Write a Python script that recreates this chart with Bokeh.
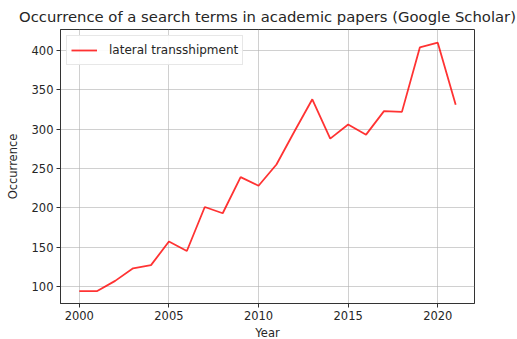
from bokeh.plotting import figure
from bokeh.models import FixedTicker, Range1d, Legend, LegendItem
from bokeh.embed import file_html
from bokeh.resources import INLINE

# Yearly counts of the search term in Google Scholar
years = list(range(2000, 2022))
occurrence = [94, 94, 107, 123, 127, 157, 145, 201, 193, 239, 228,
              255, 297, 338, 288, 306, 293, 323, 322, 404, 410, 331]
series_label = "lateral transshipment"
x_ticks = [2000, 2005, 2010, 2015, 2020]
y_ticks = [100, 150, 200, 250, 300, 350, 400]

FONT = "DejaVu Sans"
TEXT = "#262626"

p = figure(
    width=517, height=339,
    output_backend="svg", toolbar_location=None,
    title="Occurrence of a search terms in academic papers (Google Scholar)",
    x_range=Range1d(1998.95, 2022.05), y_range=Range1d(78.2, 426.8),
    min_border_left=60, min_border_right=43, min_border_top=5, min_border_bottom=5,
)
p.frame_width = 414
p.frame_height = 274

p.title.text_font = FONT
p.title.text_font_size = "14.8px"
p.title.text_font_style = "normal"
p.title.text_color = TEXT
p.title.align = "center"
p.title.offset = -12

line = p.line(years, occurrence, line_color="#ff0000", line_alpha=0.8, line_width=1.8)

for ax, ticks in ((p.xaxis, x_ticks), (p.yaxis, y_ticks)):
    ax.ticker = FixedTicker(ticks=ticks)
    ax.major_tick_out = 4
    ax.major_tick_in = 0
    ax.minor_tick_line_color = None
    ax.major_label_text_font = FONT
    ax.major_label_text_font_size = "11.5px"
    ax.major_label_text_color = TEXT
    ax.axis_label_text_font = FONT
    ax.axis_label_text_font_size = "11.5px"
    ax.axis_label_text_font_style = "normal"
    ax.axis_label_text_color = TEXT
    ax.axis_line_color = "#333333"
    ax.major_tick_line_color = "#333333"
    ax.major_label_standoff = 3

p.xaxis.axis_label = "Year"
p.yaxis.axis_label = "Occurrence"
p.xaxis.axis_label_standoff = 3
p.yaxis.axis_label_standoff = 9

p.xgrid.ticker = FixedTicker(ticks=x_ticks)
p.ygrid.ticker = FixedTicker(ticks=y_ticks)
p.grid.grid_line_color = "#b0b0b0"
p.grid.grid_line_alpha = 0.6
p.grid.grid_line_width = 1

p.outline_line_color = "#333333"
p.outline_line_width = 1
p.outline_line_alpha = 1

legend = Legend(items=[LegendItem(label=series_label, renderers=[line])],
                location="top_left")
legend.label_text_font = FONT
legend.label_text_font_size = "12px"
legend.label_text_color = TEXT
legend.border_line_color = "#d0d0d0"
legend.background_fill_alpha = 0.9
legend.glyph_width = 26
legend.padding = 4
legend.margin = 6
legend.spacing = 0
legend.label_standoff = 12
p.add_layout(legend)

p.background_fill_color = "white"
p.border_fill_color = "white"

open("out.html", "w").write(file_html(p, INLINE))
